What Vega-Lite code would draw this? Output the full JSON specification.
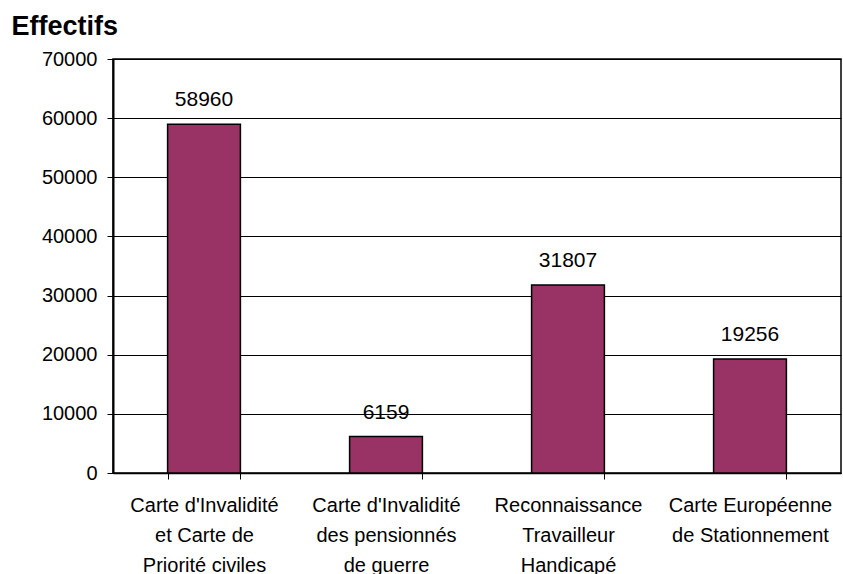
{
  "$schema": "https://vega.github.io/schema/vega-lite/v6.json",
  "width": 728,
  "height": 414,
  "autosize": "none",
  "padding": {"left": 113, "top": 59, "right": 2, "bottom": 101},
  "background": "white",
  "data": {
    "values": [
      {"carte": "Carte d'Invalidité|et Carte de|Priorité civiles", "effectif": 58960},
      {"carte": "Carte d'Invalidité|des pensionnés|de guerre", "effectif": 6159},
      {"carte": "Reconnaissance|Travailleur|Handicapé", "effectif": 31807},
      {"carte": "Carte Européenne|de Stationnement", "effectif": 19256}
    ]
  },
  "config": {
    "font": "Liberation Sans",
    "view": {"stroke": "black", "strokeWidth": 1.5},
    "axis": {
      "labelFont": "Liberation Sans",
      "labelColor": "black",
      "domainColor": "black",
      "tickColor": "black",
      "gridColor": "black",
      "gridOpacity": 1
    }
  },
  "encoding": {
    "x": {
      "field": "carte",
      "type": "nominal",
      "sort": null,
      "scale": {"paddingInner": 0.6, "paddingOuter": 0.3},
      "axis": {
        "title": null,
        "labelAngle": 0,
        "labelExpr": "datum.value ? split(datum.value, '|') : ''",
        "labelFontSize": 20,
        "labelLineHeight": 30,
        "labelPadding": 16,
        "labelBaseline": "top",
        "tickBand": "extent",
        "tickSize": 6,
        "domainWidth": 1.5,
        "grid": false
      }
    },
    "y": {
      "field": "effectif",
      "type": "quantitative",
      "scale": {"domain": [0, 70000], "nice": false},
      "axis": {
        "values": [0, 10000, 20000, 30000, 40000, 50000, 60000, 70000],
        "format": "d",
        "labelFontSize": 20,
        "labelPadding": 10,
        "tickSize": 6,
        "domainWidth": 2,
        "grid": true,
        "gridWidth": 1.2,
        "title": "Effectifs",
        "titleAngle": 0,
        "titleX": -102,
        "titleY": -25,
        "titleAlign": "left",
        "titleBaseline": "alphabetic",
        "titleFont": "Liberation Sans",
        "titleFontSize": 27,
        "titleFontWeight": "bold",
        "titleColor": "black"
      }
    }
  },
  "layer": [
    {
      "mark": {"type": "bar", "color": "#993366", "stroke": "black", "strokeWidth": 1.5}
    },
    {
      "mark": {"type": "text", "baseline": "alphabetic", "dy": -18, "fontSize": 21, "color": "black"},
      "encoding": {"text": {"field": "effectif", "type": "quantitative", "format": "d"}}
    }
  ]
}
